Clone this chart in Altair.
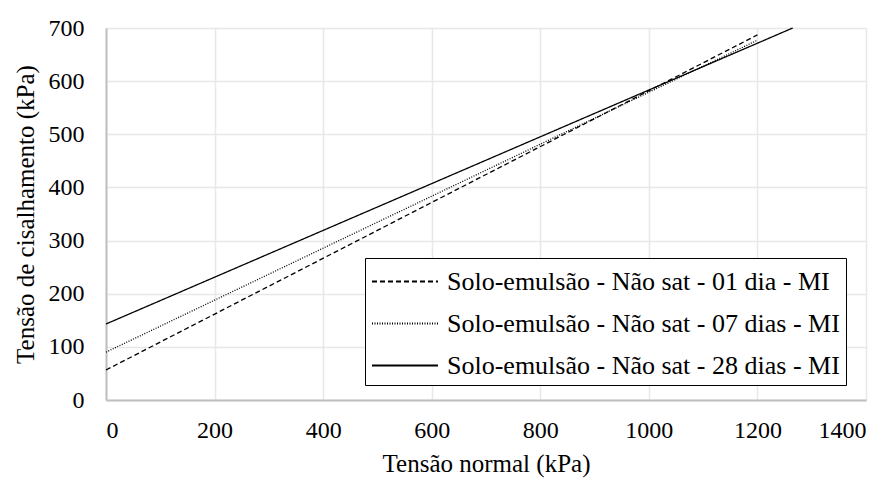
import altair as alt
import pandas as pd

series = [
    "Solo-emulsão - Não sat - 01 dia - MI",
    "Solo-emulsão - Não sat - 07 dias - MI",
    "Solo-emulsão - Não sat - 28 dias - MI",
]
x_start = [0, 0, 0]
x_end = [1200, 1200, 1265]
y_start = [56.5, 90, 143]
y_end = [687, 677, 700]

rows = []
for s, x0, x1, y0, y1 in zip(series, x_start, x_end, y_start, y_end):
    rows.append({"serie": s, "x": x0, "y": y0, "ord": 0})
    rows.append({"serie": s, "x": x1, "y": y1, "ord": 1})
df = pd.DataFrame(rows)

FONT = ("Liberation Serif, Times New Roman, Times, Tinos, Nimbus Roman, "
        "FreeSerif, Noto Serif, DejaVu Serif, serif")

chart = alt.Chart(df).mark_line(color="black", strokeWidth=1.3).encode(
    x=alt.X("x:Q", title="Tensão normal (kPa)",
            scale=alt.Scale(domain=[0, 1400], nice=False),
            axis=alt.Axis(values=[0, 200, 400, 600, 800, 1000, 1200, 1400], format="d")),
    y=alt.Y("y:Q", title="Tensão de cisalhamento (kPa)",
            scale=alt.Scale(domain=[0, 700], nice=False),
            axis=alt.Axis(values=[0, 100, 200, 300, 400, 500, 600, 700], format="d")),
    strokeDash=alt.StrokeDash("serie:N", title=None,
        scale=alt.Scale(domain=series, range=[[5, 3], [1, 1.5], [1, 0]]),
        legend=alt.Legend(orient="none", legendX=259, legendY=230)),
    order="ord:Q",
).properties(
    width=760, height=372,
    autosize=alt.AutoSizeParams(type="none"),
    padding={"left": 98, "top": 20, "right": 22, "bottom": 80},
    background="white",
).configure(
    font=FONT
).configure_view(
    stroke=None
).configure_axis(
    labelFont=FONT, titleFont=FONT, labelFontSize=24, titleFontSize=25,
    labelColor="black", titleColor="black", titleFontWeight="normal",
    gridColor="#e8e8e8", gridWidth=1.5, domainColor="#bfbfbf", domainWidth=2,
    ticks=False,
).configure_axisX(
    labelPadding=18, titlePadding=9, domain=True,
).configure_axisY(
    labelPadding=22, titlePadding=10,
).configure_legend(
    labelFont=FONT, labelFontSize=26, labelColor="black",
    symbolType="M-1,0H3", symbolSize=1089, symbolStrokeWidth=1.8,
    symbolStrokeColor="black",
    strokeColor="black", fillColor="white", padding=6,
    rowPadding=11, labelOffset=41, labelLimit=600,
)

chart.save("out.html", embed_options={"renderer": "svg", "actions": False})
